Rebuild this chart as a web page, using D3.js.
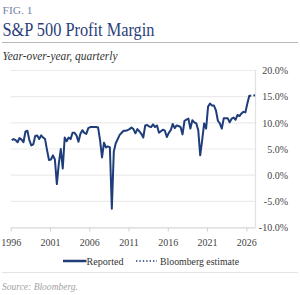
<!DOCTYPE html>
<html>
<head>
<meta charset="utf-8">
<script src="https://cdn.jsdelivr.net/npm/d3@7"></script>
<style>
  html, body { margin: 0; padding: 0; background: #fff; }
  svg { display: block; }
  text { font-family: "Liberation Serif", "DejaVu Serif", serif; }
</style>
</head>
<body>
<svg id="chart" width="300" height="295"></svg>
<script>
// ---- data ----
const firstQuarter = 1996.125; // 1996 Q1 (mid-quarter)
const reported = [
  6.6, 6.8, 6.6, 6.2, 7.0, 6.7, 6.2, 8.2, 8.4, 6.6,
  5.6, 5.8, 7.4, 7.5, 6.8, 7.5, 7.1, 6.8, 4.7, 2.8,
  2.9, 3.7, 2.9, -1.8, 2.1, 4.9, 1.2, 7.1, 6.4, 7.1,
  6.8, 8.0, 8.0, 7.5, 6.3, 7.8, 8.5, 8.0, 7.8, 8.9,
  9.1, 9.1, 9.1, 9.1, 9.0, 6.6, 3.3, 6.1, 5.2, 5.4,
  5.2, -6.5, 4.4, 6.0, 6.8, 7.6, 8.0, 8.4, 8.4, 8.5,
  8.7, 9.0, 8.7, 7.9, 8.7, 8.3, 7.8, 7.1, 9.4, 9.5,
  9.2, 9.1, 9.6, 9.1, 9.4, 8.0, 8.3, 8.6, 8.4, 7.2,
  8.0, 8.5, 9.7, 8.9, 9.4, 9.3, 9.1, 7.7, 10.3, 10.5,
  10.7, 8.8, 10.4, 10.0, 9.8, 8.5, 3.7, 6.6, 9.8, 8.8,
  13.0, 13.6, 13.2, 13.2, 12.3, 10.3, 9.8, 8.8, 10.8, 10.8,
  10.8, 10.0, 10.7, 10.9, 10.5, 11.4, 11.2, 11.7, 12.0, 11.9,
  13.6, 15.1, 15.1
];
const estimateStartIndex = 122;
const estimate = [15.1, 15.1, 15.2];
const xTicks = [1996, 2001, 2006, 2011, 2016, 2021, 2026];
const yTicks = [-10, -5, 0, 5, 10, 15, 20];
const legendLabels = ["Reported", "Bloomberg estimate"];

// ---- layout ----
const svg = d3.select("#chart");
const navy = "#1f3d7a";
const x = d3.scaleLinear().domain([1996, 2027.125]).range([10.7, 255.2]);
const y = d3.scaleLinear().domain([-10, 20]).range([227, 70]);

// header
svg.append("text").attr("x", 2.5).attr("y", 13.5)
  .attr("font-size", 10.5).attr("fill", "#7583a6")
  .attr("textLength", 30).attr("lengthAdjust", "spacingAndGlyphs")
  .text("FIG. 1");
svg.append("text").attr("x", 2.5).attr("y", 36)
  .attr("font-size", 18).attr("fill", "#2b3e7a")
  .attr("textLength", 152).attr("lengthAdjust", "spacingAndGlyphs")
  .text("S&P 500 Profit Margin");
svg.append("line").attr("x1", 2).attr("x2", 298).attr("y1", 42.5).attr("y2", 42.5)
  .attr("stroke", "#b8b8b8").attr("stroke-width", 1);
svg.append("text").attr("x", 2.5).attr("y", 60)
  .attr("font-size", 12.5).attr("font-style", "italic").attr("fill", "#333")
  .attr("textLength", 115).attr("lengthAdjust", "spacingAndGlyphs")
  .text("Year-over-year, quarterly");

// gridlines
svg.append("g").selectAll("line").data(yTicks).join("line")
  .attr("x1", x.range()[0]).attr("x2", x.range()[1])
  .attr("y1", d => y(d) + 0.5).attr("y2", d => y(d) + 0.5)
  .attr("stroke", "#ebebeb").attr("stroke-width", 1.2);

// right axis line
svg.append("line").attr("x1", 255.5).attr("x2", 255.5).attr("y1", y(20)).attr("y2", y(-10) + 0.5)
  .attr("stroke", "#e2e2e2").attr("stroke-width", 1.2);

// y labels (right)
const yAxis = d3.axisRight(y).tickValues(yTicks).tickSize(0).tickPadding(0)
  .tickFormat(d => d.toFixed(1) + "%");
const gy = svg.append("g").attr("transform", "translate(288,0.5)").call(yAxis);
gy.select(".domain").remove();
gy.selectAll("text").attr("text-anchor", "end").attr("x", 0)
  .attr("font-family", "Liberation Serif, serif").attr("font-size", 10).attr("fill", "#444");

// x axis
const xAxis = d3.axisBottom(x).tickValues(xTicks).tickSize(4).tickSizeOuter(0)
  .tickPadding(7).tickFormat(d3.format("d"));
const gx = svg.append("g").attr("transform", "translate(0,227.5)").call(xAxis);
gx.select(".domain").attr("stroke", "#d8d8d8").attr("stroke-width", 1.2);
gx.selectAll(".tick line").attr("stroke", "#d0d0d0");
gx.selectAll("text").attr("font-family", "Liberation Serif, serif")
  .attr("font-size", 10).attr("fill", "#444");

// lines
const qx = i => x(firstQuarter + 0.25 * i);
const line = d3.line().x(d => qx(d.i)).y(d => y(d.v));
svg.append("path")
  .datum(reported.map((v, i) => ({ i, v })))
  .attr("d", line).attr("fill", "none").attr("stroke", navy)
  .attr("stroke-width", 2).attr("stroke-linejoin", "round");
svg.append("path")
  .datum(estimate.map((v, k) => ({ i: estimateStartIndex + k, v })))
  .attr("d", line).attr("fill", "none").attr("stroke", navy)
  .attr("stroke-width", 2).attr("stroke-dasharray", "0,2.2,1.6,1");

// legend
const leg = svg.append("g");
leg.append("line").attr("x1", 63).attr("x2", 86.5).attr("y1", 261).attr("y2", 261)
  .attr("stroke", navy).attr("stroke-width", 2.5);
leg.append("text").attr("x", 86.5).attr("y", 264.5).attr("font-size", 10.5).attr("fill", "#333")
  .attr("textLength", 37).attr("lengthAdjust", "spacingAndGlyphs").text(legendLabels[0]);
leg.append("line").attr("x1", 136).attr("x2", 157).attr("y1", 261).attr("y2", 261)
  .attr("stroke", navy).attr("stroke-width", 1.6).attr("stroke-dasharray", "1.4,2");
leg.append("text").attr("x", 160).attr("y", 264.5).attr("font-size", 10.5).attr("fill", "#333")
  .attr("textLength", 79).attr("lengthAdjust", "spacingAndGlyphs").text(legendLabels[1]);

// footer
svg.append("line").attr("x1", 2).attr("x2", 298).attr("y1", 272.5).attr("y2", 272.5)
  .attr("stroke", "#e3e3e3").attr("stroke-width", 1);
svg.append("text").attr("x", 2).attr("y", 290).attr("font-size", 10)
  .attr("font-style", "italic").attr("fill", "#a3a3a3")
  .attr("textLength", 76).attr("lengthAdjust", "spacingAndGlyphs")
  .text("Source: Bloomberg.");
</script>
</body>
</html>
